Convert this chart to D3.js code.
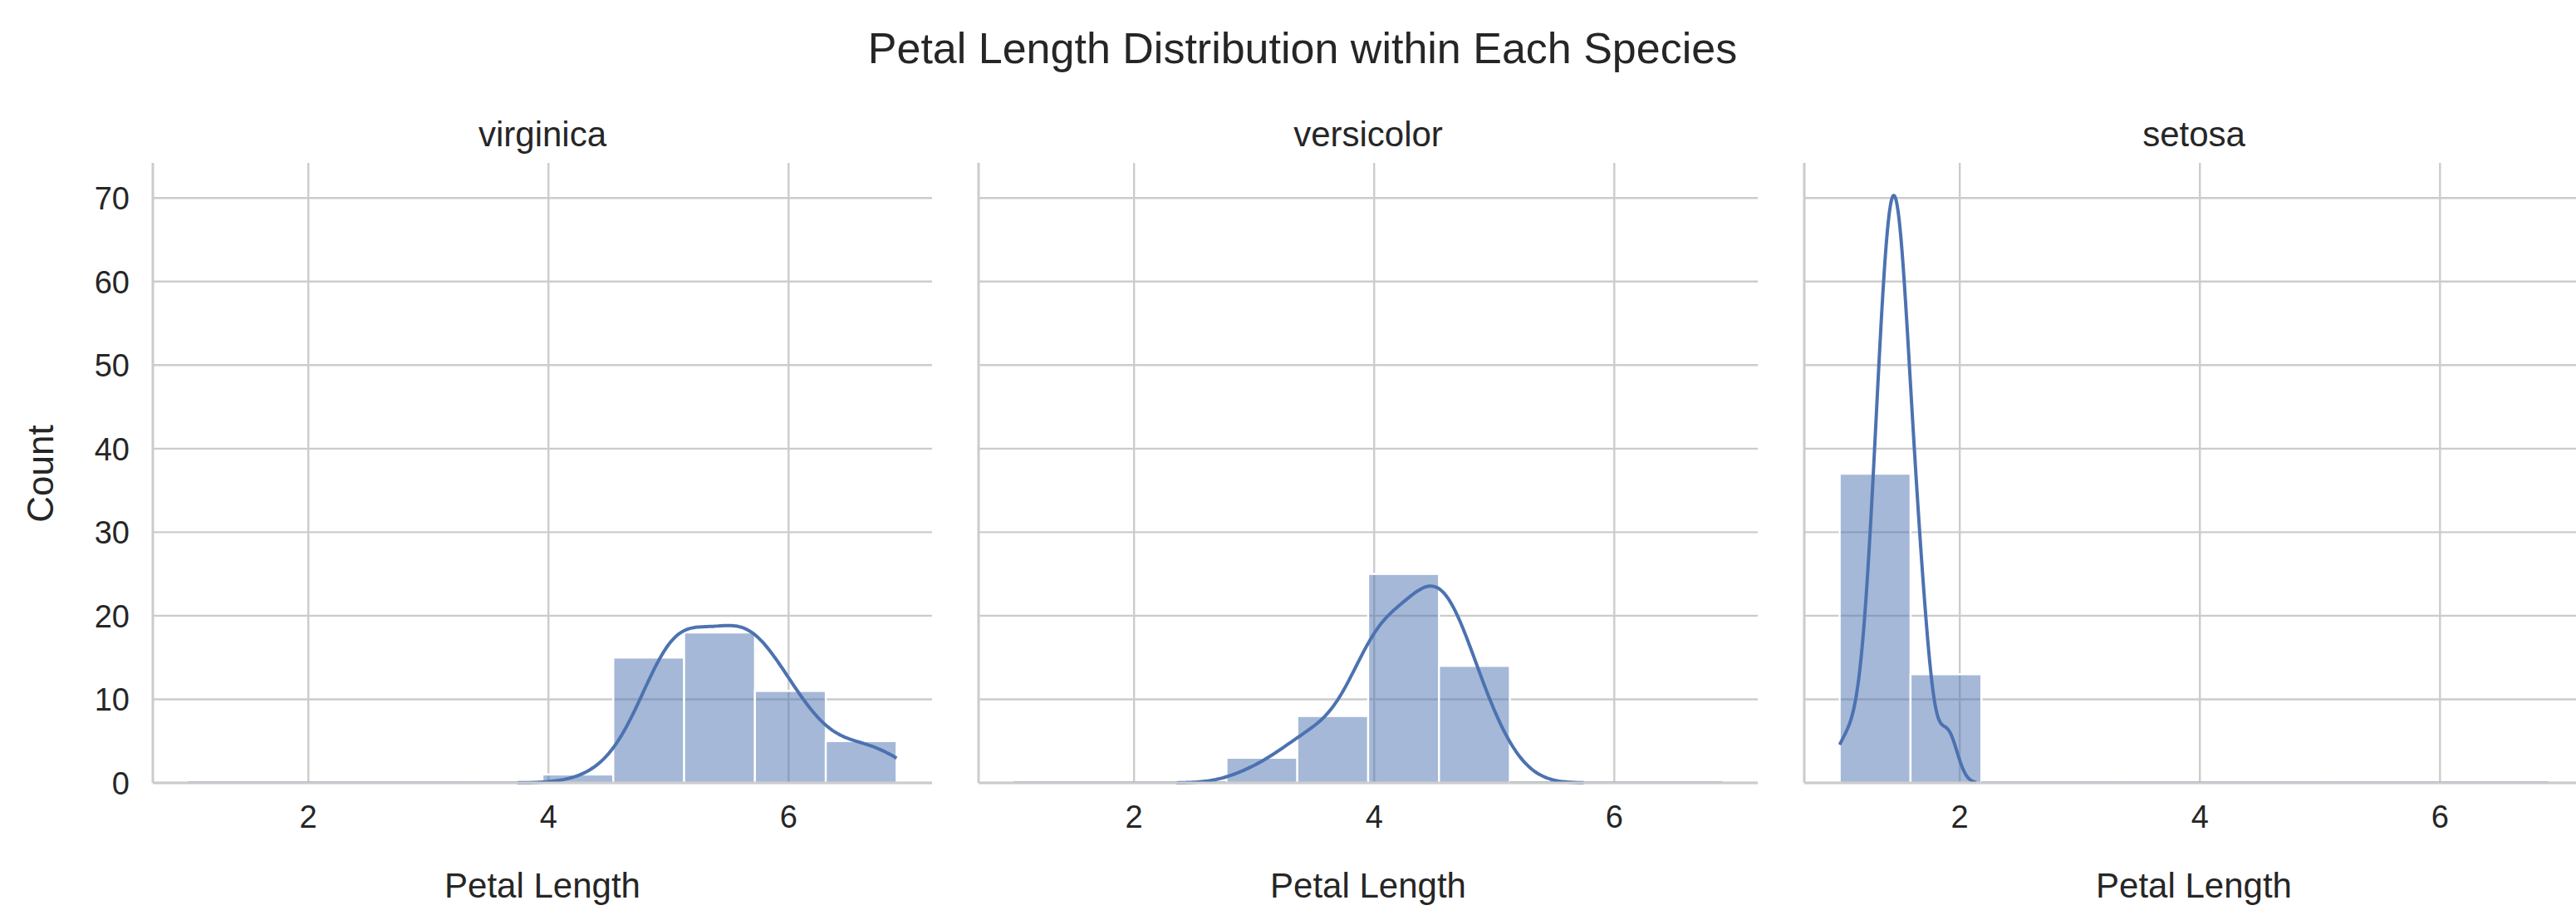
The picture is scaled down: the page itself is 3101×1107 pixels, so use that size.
<!DOCTYPE html><html><head><meta charset="utf-8">
<script src="https://cdn.jsdelivr.net/npm/d3@7"></script>
<style>body{margin:0;background:#fff}text{font-family:Arial,"Liberation Sans",sans-serif;fill:#262626}</style></head><body>
<svg id="c" width="3101" height="1107" viewBox="0 0 1550.5 553.5"></svg>
<script>
const species=["virginica","versicolor","setosa"];
const binEdges=[1.0,1.59,2.18,2.77,3.36,3.95,4.54,5.13,5.72,6.31,6.9];
const counts={
 virginica:[0,0,0,0,0,1,15,18,11,5],
 versicolor:[0,0,0,3,8,25,14,0,0,0],
 setosa:[37,13,0,0,0,0,0,0,0,0]};
const raw={
 setosa:[1.4,1.4,1.3,1.5,1.4,1.7,1.4,1.5,1.4,1.5,1.5,1.6,1.4,1.1,1.2,1.5,1.3,1.4,1.7,1.5,1.7,1.5,1.0,1.7,1.9,1.6,1.6,1.5,1.4,1.6,1.6,1.5,1.5,1.4,1.5,1.2,1.3,1.4,1.3,1.5,1.3,1.3,1.3,1.6,1.9,1.4,1.6,1.4,1.5,1.4],
 versicolor:[4.7,4.5,4.9,4.0,4.6,4.5,4.7,3.3,4.6,3.9,3.5,4.2,4.0,4.7,3.6,4.4,4.5,4.1,4.5,3.9,4.8,4.0,4.9,4.7,4.3,4.4,4.8,5.0,4.5,3.5,3.8,3.7,3.9,5.1,4.5,4.5,4.7,4.4,4.1,4.0,4.4,4.6,4.0,3.3,4.2,4.2,4.2,4.3,3.0,4.1],
 virginica:[6.0,5.1,5.9,5.6,5.8,6.6,4.5,6.3,5.8,6.1,5.1,5.3,5.5,5.0,5.1,5.3,5.5,6.7,6.9,5.0,5.7,4.9,6.7,4.9,5.7,6.0,4.8,4.9,5.6,5.8,6.1,6.4,5.6,5.1,5.6,6.1,5.6,5.5,4.8,5.4,5.6,5.1,5.1,5.9,5.7,5.2,5.0,5.2,5.4,5.1]};
const xTicks=[2,4,6], yTicks=[0,10,20,30,40,50,60,70];
const col="#4c72b0";
const svg=d3.select("#c");
const panels=[92,589,1086], pw=469, topY=98, botY=471;
const y=d3.scaleLinear().domain([0,74.2]).range([botY,topY]);
svg.append("text").attr("x",784).attr("y",38).attr("text-anchor","middle").style("font-size","26px").text("Petal Length Distribution within Each Species");
svg.append("text").attr("transform","translate(32,285) rotate(-90)").attr("text-anchor","middle").style("font-size","22px").text("Count");
species.forEach((sp,i)=>{
 const g=svg.append("g").attr("transform",`translate(${panels[i]},0)`);
 const x=d3.scaleLinear().domain([0.705,7.195]).range([0,pw]);
 g.selectAll(".gx").data(xTicks).join("line").attr("x1",d=>x(d)).attr("x2",d=>x(d)).attr("y1",topY).attr("y2",botY).attr("stroke","#cccccc").attr("stroke-width",1.2);
 g.selectAll(".gy").data(yTicks).join("line").attr("x1",0).attr("x2",pw).attr("y1",d=>y(d)).attr("y2",d=>y(d)).attr("stroke","#cccccc").attr("stroke-width",1.2);
 g.selectAll(".b").data(counts[sp]).join("rect")
  .attr("x",(d,j)=>x(binEdges[j])).attr("width",(d,j)=>x(binEdges[j+1])-x(binEdges[j]))
  .attr("y",d=>y(d)-(d===0?1:0)).attr("height",d=>Math.max(botY-y(d),1))
  .attr("fill",col).attr("fill-opacity",0.5).attr("stroke","#fff").attr("stroke-width",d=>d===0?0:1.2);
 const v=raw[sp], n=v.length, sd=d3.deviation(v), bw=sd*Math.pow(n,-0.2);
 const lo=Math.max(1.0,d3.min(v)-3*bw), hi=Math.min(6.9,d3.max(v)+3*bw);
 const pts=d3.range(201).map(k=>{const t=lo+(hi-lo)*k/200;
  const dens=d3.sum(v,a=>Math.exp(-0.5*((t-a)/bw)**2))/(n*bw*Math.sqrt(2*Math.PI));
  return [t,dens*n*0.59];});
 g.append("path").attr("d",d3.line().x(d=>x(d[0])).y(d=>y(d[1]))(pts)).attr("fill","none").attr("stroke",col).attr("stroke-width",2);
 g.append("line").attr("x1",0).attr("x2",0).attr("y1",topY).attr("y2",botY).attr("stroke","#cccccc").attr("stroke-width",1.5);
 g.append("line").attr("x1",0).attr("x2",pw).attr("y1",botY).attr("y2",botY).attr("stroke","#cccccc").attr("stroke-width",1.5);
 g.selectAll(".xt").data(xTicks).join("text").attr("x",d=>x(d)).attr("y",botY+27).attr("text-anchor","middle").style("font-size","19px").text(d=>d);
 if(i===0) g.selectAll(".yt").data(yTicks).join("text").attr("x",-14).attr("y",d=>y(d)+7).attr("text-anchor","end").style("font-size","19px").text(d=>d);
 g.append("text").attr("x",pw/2).attr("y",88).attr("text-anchor","middle").style("font-size","21px").text(sp);
 g.append("text").attr("x",pw/2).attr("y",540).attr("text-anchor","middle").style("font-size","21px").text("Petal Length");
});
</script></body></html>
